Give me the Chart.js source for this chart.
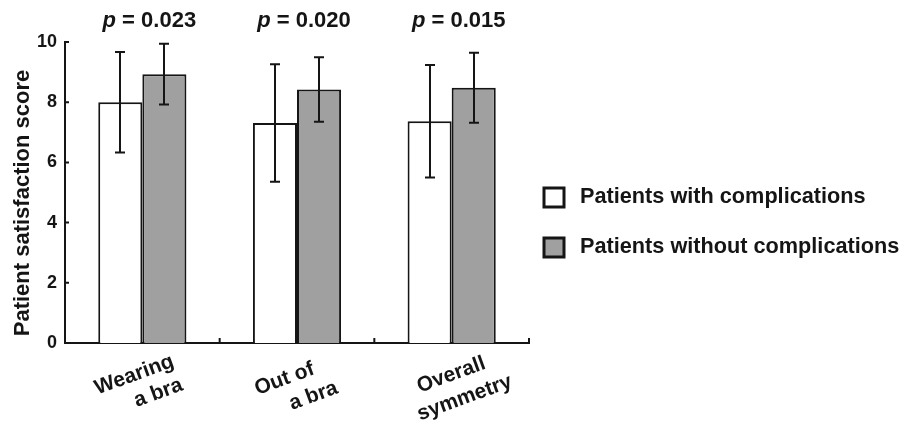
<!DOCTYPE html>
<html>
<head>
<meta charset="utf-8">
<script src="https://cdn.jsdelivr.net/npm/chart.js@4.4.1/dist/chart.umd.min.js"></script>
<style>
  html, body { margin: 0; padding: 0; background: #fff; }
  #wrap { width: 903px; height: 427px; position: relative; }
</style>
</head>
<body>
<div id="wrap"><canvas id="chart" width="903" height="427"></canvas></div>
<script>
const categories = [["Wearing", "a bra"], ["Out of", "a bra"], ["Overall", "symmetry"]];
const seriesNames = ["Patients with complications", "Patients without complications"];
const withComplications = [8.0, 7.31, 7.37];
const withoutComplications = [8.93, 8.42, 8.48];
const sdWith = [1.67, 1.95, 1.87];
const sdWithout = [1.01, 1.07, 1.16];
const pValues = ["0.023", "0.020", "0.015"];
const yTicks = [0, 2, 4, 6, 8, 10];

const FONT = "'Liberation Sans', Arial, sans-serif";
const INK = "#151515";
const GRAY = "#a0a0a0";

// hand-placed label offsets (relative to category centre)
const LABEL_LINES = [
  [{ dx: -8, y: 375 }, { dx: 16, y: 393 }],
  [{ dx: -12.5, y: 379 }, { dx: 16.5, y: 396 }],
  [{ dx: -0.5, y: 375 }, { dx: 13, y: 398 }]
];

const annotations = {
  id: "annotations",
  afterDatasetsDraw(chart) {
    const ctx = chart.ctx;
    const y = chart.scales.y;
    const sds = [sdWith, sdWithout];
    ctx.save();
    ctx.strokeStyle = INK;
    ctx.lineWidth = 2;
    chart.data.datasets.forEach((ds, di) => {
      chart.getDatasetMeta(di).data.forEach((bar, i) => {
        const top = y.getPixelForValue(ds.data[i] + sds[di][i]);
        const bot = y.getPixelForValue(ds.data[i] - sds[di][i]);
        const x = Math.round(bar.x);
        ctx.beginPath();
        ctx.moveTo(x, top);
        ctx.lineTo(x, bot);
        ctx.moveTo(x - 5, top);
        ctx.lineTo(x + 5, top);
        ctx.moveTo(x - 5, bot);
        ctx.lineTo(x + 5, bot);
        ctx.stroke();
      });
    });
    ctx.restore();
  },
  afterDraw(chart) {
    const ctx = chart.ctx;
    const x = chart.scales.x;
    const y = chart.scales.y;
    const area = chart.chartArea;
    ctx.save();
    ctx.fillStyle = INK;
    ctx.strokeStyle = INK;

    // inner tick marks
    ctx.lineWidth = 2;
    ctx.beginPath();
    yTicks.forEach((v) => {
      const py = y.getPixelForValue(v);
      ctx.moveTo(area.left, py);
      ctx.lineTo(area.left + 4, py);
    });
    const step = x.getPixelForValue(1) - x.getPixelForValue(0);
    categories.forEach((c, i) => {
      const px = x.getPixelForValue(i) + step / 2;
      ctx.moveTo(px, area.bottom);
      ctx.lineTo(px, area.bottom - 5);
    });
    ctx.stroke();

    // p values
    ctx.textBaseline = "middle";
    pValues.forEach((p, i) => {
      const rest = " = " + p;
      ctx.font = "italic bold 22px " + FONT;
      const wp = ctx.measureText("p").width;
      ctx.font = "bold 22px " + FONT;
      const wr = ctx.measureText(rest).width;
      const sx = x.getPixelForValue(i) + 7 - (wp + wr) / 2;
      ctx.textAlign = "left";
      ctx.font = "italic bold 22px " + FONT;
      ctx.fillText("p", sx, 21);
      ctx.font = "bold 22px " + FONT;
      ctx.fillText(rest, sx + wp, 21);
    });

    // category labels, rotated
    ctx.font = "bold 21px " + FONT;
    ctx.textAlign = "center";
    categories.forEach((lines, i) => {
      const cx = x.getPixelForValue(i);
      lines.forEach((line, li) => {
        const pos = LABEL_LINES[i][li];
        ctx.save();
        ctx.translate(cx + pos.dx, pos.y);
        ctx.rotate(-20 * Math.PI / 180);
        ctx.fillText(line, 0, 0);
        ctx.restore();
      });
    });

    // y axis title
    ctx.save();
    ctx.font = "bold 22px " + FONT;
    ctx.translate(23, 203);
    ctx.rotate(-Math.PI / 2);
    ctx.fillText("Patient satisfaction score", 0, 0);
    ctx.restore();

    // legend
    ctx.font = "bold 21.7px " + FONT;
    ctx.textAlign = "left";
    chart.data.datasets.forEach((ds, di) => {
      const cy = 197 + di * 50;
      ctx.fillStyle = ds.backgroundColor;
      ctx.fillRect(544, cy - 9, 20, 19);
      ctx.lineWidth = 3;
      ctx.strokeStyle = INK;
      ctx.strokeRect(544, cy - 9, 20, 19);
      ctx.fillStyle = INK;
      ctx.fillText(ds.label, 580, cy);
    });
    ctx.restore();
  }
};

new Chart(document.getElementById("chart"), {
  type: "bar",
  data: {
    labels: categories.map((c) => c.join(" ")),
    datasets: [
      {
        label: seriesNames[0],
        data: withComplications,
        backgroundColor: "#ffffff",
        borderColor: INK,
        borderWidth: 2,
        categoryPercentage: 0.57,
        barPercentage: 1
      },
      {
        label: seriesNames[1],
        data: withoutComplications,
        backgroundColor: GRAY,
        borderColor: INK,
        borderWidth: 2,
        categoryPercentage: 0.57,
        barPercentage: 1
      }
    ]
  },
  options: {
    responsive: false,
    animation: false,
    layout: { padding: { top: 42, right: 374, bottom: 0, left: 0 } },
    plugins: { legend: { display: false }, tooltip: { enabled: false } },
    scales: {
      x: {
        grid: { display: false },
        ticks: { display: false },
        border: { display: true, color: INK, width: 2 },
        afterFit(scale) { scale.height = 84; }
      },
      y: {
        min: 0,
        max: 10,
        ticks: {
          stepSize: 2,
          padding: 0,
          color: INK,
          font: { family: FONT, size: 18, weight: "bold" }
        },
        grid: { display: false },
        border: { display: true, color: INK, width: 2 },
        afterFit(scale) { scale.width = 65; }
      }
    }
  },
  plugins: [annotations]
});
</script>
</body>
</html>
